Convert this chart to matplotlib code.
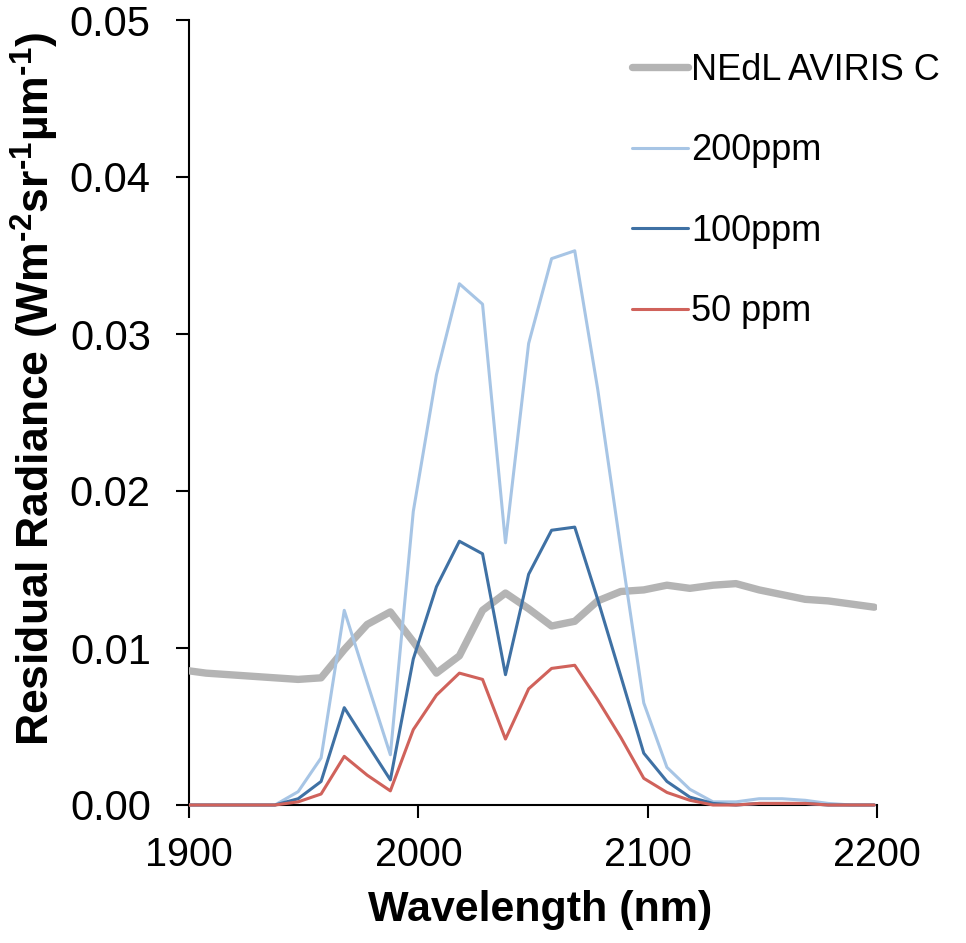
import matplotlib
matplotlib.use("Agg")
import matplotlib.pyplot as plt
from matplotlib.transforms import Bbox, TransformedBbox

plt.rcParams['font.family'] = ['Liberation Sans', 'DejaVu Sans']
plt.rcParams['mathtext.fontset'] = 'custom'
plt.rcParams['mathtext.rm'] = 'Liberation Sans'
plt.rcParams['mathtext.bf'] = 'Liberation Sans:bold'
plt.rcParams['mathtext.it'] = 'Liberation Sans:italic'

# Wavelength (nm) of each band
wavelength = [1897.3, 1907.4, 1917.4, 1927.5, 1937.5, 1947.6, 1957.6, 1967.7,
              1977.7, 1987.8, 1997.8, 2007.9, 2017.9, 2028.0, 2038.0, 2048.1,
              2058.1, 2068.2, 2078.2, 2088.3, 2098.3, 2108.4, 2118.4, 2128.5,
              2138.5, 2148.6, 2158.6, 2168.7, 2178.7, 2188.8, 2198.8]

nedl_aviris_c = [0.0086, 0.0084, 0.0083, 0.0082, 0.0081, 0.0080, 0.0081, 0.0099,
                 0.0115, 0.0123, 0.0104, 0.0084, 0.0095, 0.0124, 0.0135, 0.0125,
                 0.0114, 0.0117, 0.0130, 0.0136, 0.0137, 0.0140, 0.0138, 0.0140,
                 0.0141, 0.0137, 0.0134, 0.0131, 0.0130, 0.0128, 0.0126]

ppm200 = [0.0, 0.0, 0.0, 0.0, 0.0, 0.00085, 0.0030, 0.0124,
          0.0078, 0.0032, 0.0187, 0.0274, 0.0332, 0.0319, 0.0167, 0.0294,
          0.0348, 0.0353, 0.0265, 0.0163, 0.0065, 0.0024, 0.0010, 0.0002,
          0.0002, 0.0004, 0.0004, 0.0003, 0.0001, 0.0, 0.0]

ppm100 = [0.0, 0.0, 0.0, 0.0, 0.0, 0.0004, 0.0015, 0.0062,
          0.0039, 0.0016, 0.0093, 0.0139, 0.0168, 0.0160, 0.0083, 0.0147,
          0.0175, 0.0177, 0.0131, 0.0082, 0.0033, 0.0015, 0.0005, 0.0001,
          0.0, 0.0001, 0.0001, 0.0001, 0.0, 0.0, 0.0]

ppm50 = [0.0, 0.0, 0.0, 0.0, 0.0, 0.0002, 0.0007, 0.0031,
         0.0019, 0.0009, 0.0048, 0.0070, 0.0084, 0.0080, 0.0042, 0.0074,
         0.0087, 0.0089, 0.0067, 0.0043, 0.0017, 0.0008, 0.0003, 0.0,
         0.0, 0.0001, 0.0001, 0.0001, 0.0, 0.0, 0.0]

labels = ["NEdL AVIRIS C", "200ppm", "100ppm", "50 ppm"]
x_ticks = [1900, 2000, 2100, 2200]
y_ticks = [0.00, 0.01, 0.02, 0.03, 0.04, 0.05]

fig = plt.figure(figsize=(9.66, 9.43), dpi=100)
ax = fig.add_axes([189/966, 138/943, 688/966, 785/943])

series = [
    (nedl_aviris_c, "#b4b4b4", 5.3),
    (ppm200, "#a7c5e5", 2.2),
    (ppm100, "#3f71a4", 2.2),
    (ppm50, "#d0625b", 2.2),
]
lines = []
for (vals, col, lw), lab in zip(series, labels):
    ln, = ax.plot(wavelength, vals, color=col, lw=lw, label=lab,
                  solid_capstyle='round', solid_joinstyle='round', zorder=3)
    lines.append(ln)

ax.set_xlim(1900, 2200)
ax.set_ylim(0, 0.05)

clip = TransformedBbox(Bbox([[0, -0.02], [1, 1]]), ax.transAxes)
for ln in lines:
    ln.set_clip_box(clip)

ax.set_xticks(x_ticks)
ax.set_xticklabels([str(v) for v in x_ticks])
ax.set_yticks(y_ticks)
ax.set_yticklabels([f"{v:.2f}" for v in y_ticks])

for s in ['top', 'right']:
    ax.spines[s].set_visible(False)
for s in ['left', 'bottom']:
    ax.spines[s].set_linewidth(1.5)
    ax.spines[s].set_color('black')

ax.tick_params(axis='both', direction='out', length=9.5, width=1.5,
               colors='black')
ax.tick_params(axis='x', pad=13, labelsize=28.5)
ax.tick_params(axis='y', pad=18, labelsize=30)

ax.set_xlabel("Wavelength (nm)", fontsize=31, fontweight='bold', va='center')
ax.set_ylabel("Residual Radiance (Wm$^{\\mathbf{\u2010}\\mathbf{2}}$sr$^{\\mathbf{\u2010}\\mathbf{1}}$"
              "µm$^{\\mathbf{\u2010}\\mathbf{1}}$)",
              fontsize=32, fontweight='bold', va='center')
ax.xaxis.set_label_coords(0.51, -0.134)
ax.yaxis.set_label_coords(-0.224, 0.53)

leg = ax.legend(loc='upper left', bbox_to_anchor=(0.644, 0.958), frameon=False,
                fontsize=26, handlelength=1.55, handletextpad=0.08,
                labelspacing=1.26, borderpad=0, borderaxespad=0)

fig.savefig("out.png", dpi=100)
